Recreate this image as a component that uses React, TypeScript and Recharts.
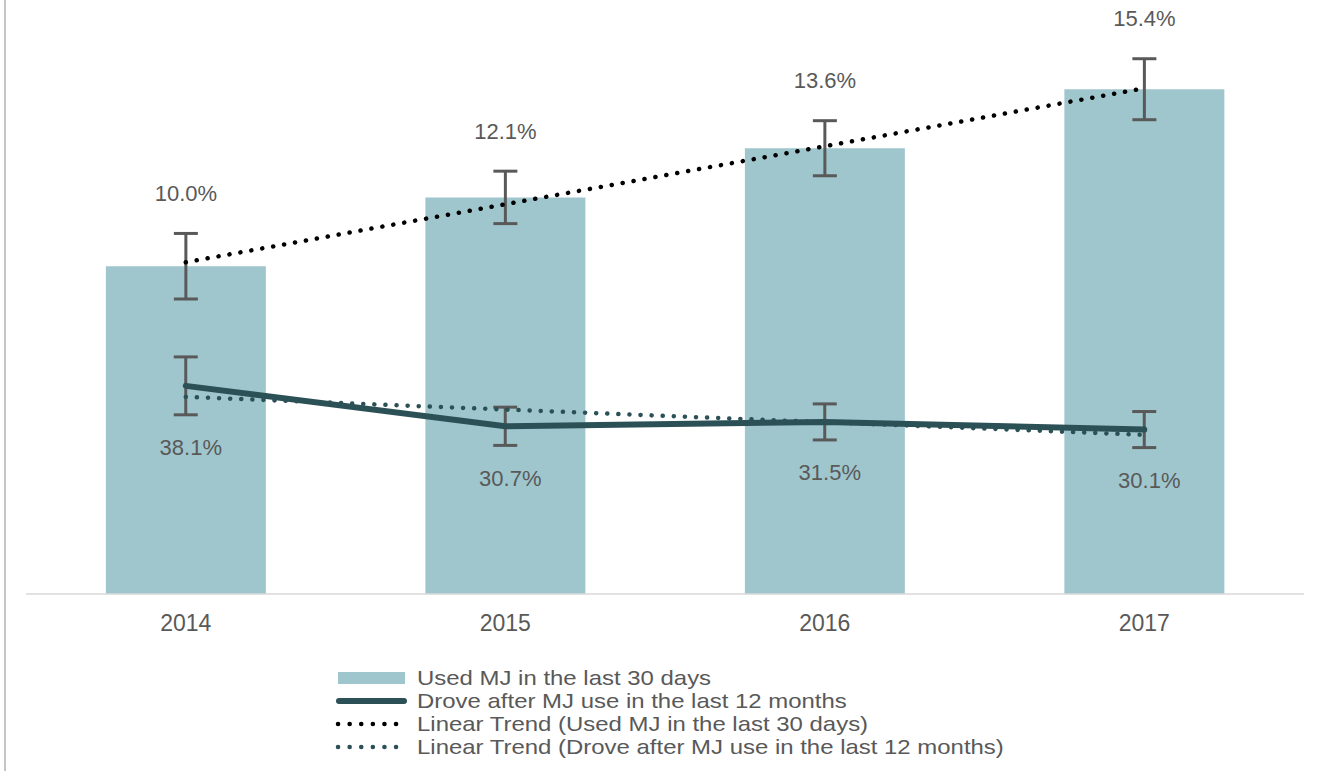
import React from 'react';
import { ComposedChart, Bar, Line, XAxis, YAxis, ErrorBar, LabelList } from 'recharts';

const years = ['2014', '2015', '2016', '2017'];
const usedMJ = [10.0, 12.1, 13.6, 15.4];
const usedMJErr = [1.0, 0.8, 0.84, 0.93];
const usedMJTrend = [10.12, 11.89, 13.66, 15.43];
const droveMJ = [38.1, 30.7, 31.5, 30.1];
const droveMJErr = [5.3, 3.5, 3.3, 3.3];
const droveMJTrend = [36.08, 33.76, 31.44, 29.12];
const legendLabels = [
  'Used MJ in the last 30 days',
  'Drove after MJ use in the last 12 months',
  'Linear Trend (Used MJ in the last 30 days)',
  'Linear Trend (Drove after MJ use in the last 12 months)',
];

const data = years.map((year, i) => ({
  year,
  used: usedMJ[i],
  usedErr: usedMJErr[i],
  usedTrend: usedMJTrend[i],
  drove: droveMJ[i],
  droveErr: droveMJErr[i],
  droveTrend: droveMJTrend[i],
}));

const W = 1322;
const H = 771;
const MARGIN = { top: 4, right: 18, left: 26, bottom: 137 };
const XAXIS_H = 40;
const PLOT_H = H - MARGIN.top - MARGIN.bottom - XAXIS_H;
const LEFT_MAX = 18;
const RIGHT_MAX = 108;

const BAR_COLOR = '#9FC6CD';
const LINE_COLOR = '#2B5157';
const ERR_COLOR = '#595959';
const TEXT_COLOR = '#595959';
const FONT = '"Liberation Sans", Arial, sans-serif';

const BarLabel = (props: any) => {
  const { x, y, width, height, value, index } = props;
  const errPx = (usedMJErr[index] * height) / value;
  return (
    <text
      x={x + width / 2}
      y={y - errPx - 40}
      textAnchor="middle"
      dominantBaseline="central"
      fill={TEXT_COLOR}
      fontSize={22}
      fontFamily={FONT}
    >
      {Number(value).toFixed(1)}%
    </text>
  );
};

const LineLabel = (props: any) => {
  const { x, y, value, index } = props;
  const errPx = (droveMJErr[index] * PLOT_H) / RIGHT_MAX;
  return (
    <text
      x={x + 5}
      y={y + errPx + 33}
      textAnchor="middle"
      dominantBaseline="central"
      fill={TEXT_COLOR}
      fontSize={22}
      fontFamily={FONT}
    >
      {Number(value).toFixed(1)}%
    </text>
  );
};

const Swatch = ({ kind }: { kind: number }) => {
  return (
    <svg width={78} height={22} style={{ display: 'block', flex: 'none' }}>
      {kind === 0 && <rect x={5} y={5} width={67} height={12} fill={BAR_COLOR} />}
      {kind === 1 && (
        <line x1={6} y1={11} x2={71} y2={11} stroke={LINE_COLOR} strokeWidth={6} strokeLinecap="round" />
      )}
      {kind === 2 && (
        <line x1={5} y1={11} x2={74} y2={11} stroke="#000" strokeWidth={4.5} strokeLinecap="round" strokeDasharray="0.1 11.5" />
      )}
      {kind === 3 && (
        <line x1={5} y1={11} x2={74} y2={11} stroke={LINE_COLOR} strokeWidth={4.5} strokeLinecap="round" strokeDasharray="0.1 11.5" />
      )}
    </svg>
  );
};

export default function App() {
  return (
    <div style={{ position: 'relative', width: W, height: H, background: '#fff', fontFamily: FONT }}>
      <style>{`body{margin:0;}`}</style>
      <div style={{ position: 'absolute', left: 4, top: 0, width: 2, height: H, background: '#C4C4C4' }} />
      <ComposedChart width={W} height={H} data={data} margin={MARGIN} barCategoryGap="25%">
        <XAxis
          dataKey="year"
          height={XAXIS_H}
          tickLine={false}
          axisLine={{ stroke: '#D9D9D9', strokeWidth: 1.5 }}
          tick={{ fill: TEXT_COLOR, fontSize: 23, fontFamily: FONT }}
          tickMargin={15}
        />
        <YAxis yAxisId="left" domain={[0, LEFT_MAX]} hide />
        <YAxis yAxisId="right" orientation="right" domain={[0, RIGHT_MAX]} hide />
        <Bar yAxisId="left" dataKey="used" fill={BAR_COLOR} isAnimationActive={false}>
          <ErrorBar dataKey="usedErr" width={12} stroke={ERR_COLOR} strokeWidth={3} />
          <LabelList dataKey="used" content={BarLabel} />
        </Bar>
        <Line
          yAxisId="left"
          dataKey="usedTrend"
          stroke="#000"
          strokeWidth={4.5}
          strokeLinecap="round"
          strokeDasharray="0.1 11"
          dot={false}
          activeDot={false}
          isAnimationActive={false}
        />
        <Line
          yAxisId="right"
          dataKey="drove"
          stroke={LINE_COLOR}
          strokeWidth={6}
          strokeLinecap="round"
          dot={false}
          activeDot={false}
          isAnimationActive={false}
        >
          <ErrorBar dataKey="droveErr" width={12} stroke={ERR_COLOR} strokeWidth={3} />
          <LabelList dataKey="drove" content={LineLabel} />
        </Line>
        <Line
          yAxisId="right"
          dataKey="droveTrend"
          stroke={LINE_COLOR}
          strokeWidth={4.5}
          strokeLinecap="round"
          strokeDasharray="0.1 11"
          dot={false}
          activeDot={false}
          isAnimationActive={false}
        />
      </ComposedChart>
      <div style={{ position: 'absolute', left: 333, top: 666, color: TEXT_COLOR }}>
        {legendLabels.map((label, i) => (
          <div key={label} style={{ display: 'flex', alignItems: 'center', height: 23 }}>
            <Swatch kind={i} />
            <span
              style={{
                fontSize: 21,
                lineHeight: '23px',
                whiteSpace: 'nowrap',
                display: 'inline-block',
                transform: 'scaleX(1.14)',
                transformOrigin: 'left center',
                marginLeft: 6,
              }}
            >
              {label}
            </span>
          </div>
        ))}
      </div>
    </div>
  );
}
